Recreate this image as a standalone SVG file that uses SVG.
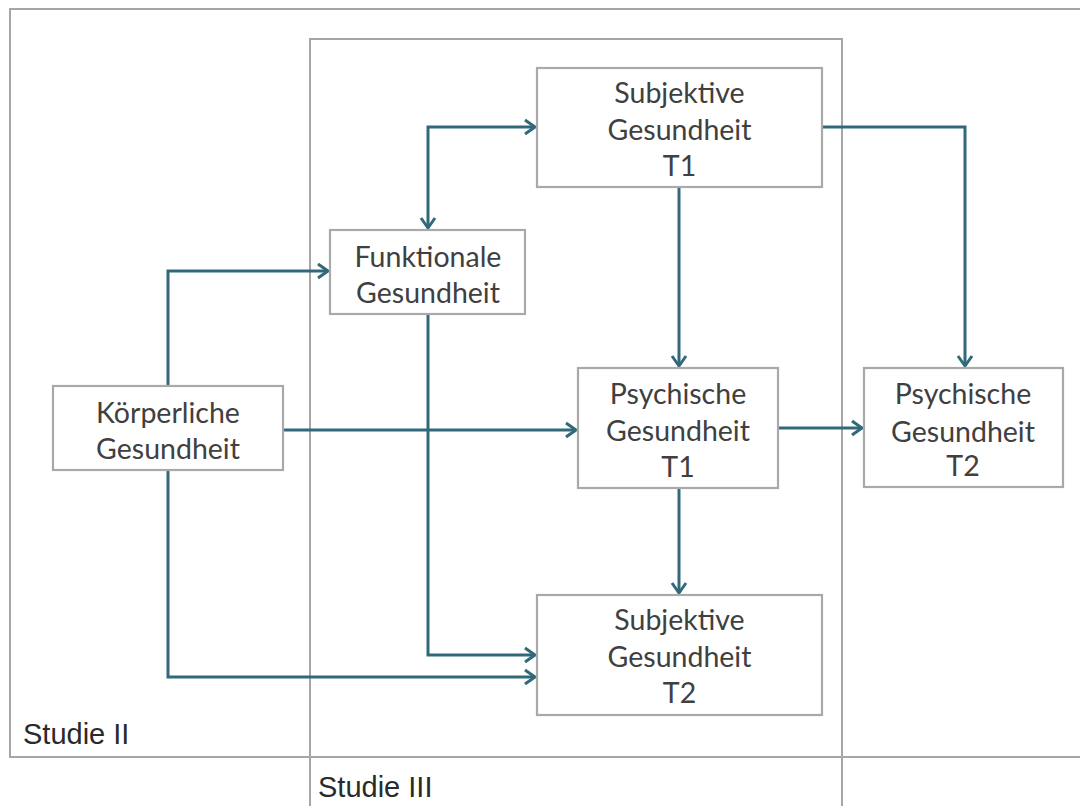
<svg xmlns="http://www.w3.org/2000/svg" width="1080" height="806" viewBox="0 0 1080 806">
<defs>
<style>
.frame{fill:none;stroke:#a6a6a6;stroke-width:2}
.box{fill:#fff;stroke:#a9a9a9;stroke-width:2.2}
.lbl{font-family:Lato,"Open Sans","Noto Sans",sans-serif;font-size:28.5px;fill:#404040;text-anchor:middle}
.study{font-family:"Liberation Sans",Arial,sans-serif;font-size:29px;fill:#2a2a2a}
.con{fill:none;stroke:#31697a;stroke-width:3}
</style>
<marker id="ah" markerUnits="userSpaceOnUse" markerWidth="16" markerHeight="18" refX="12" refY="8" orient="auto-start-reverse" viewBox="0 0 16 16">
<path d="M2,1 L12,8 L2,15" fill="none" stroke="#31697a" stroke-width="3"/>
</marker>
</defs>
<rect width="1080" height="806" fill="#fff"/>
<g id="studie2">
<rect class="frame" x="10" y="9" width="1090" height="748"/>
<text class="study" x="23" y="744">Studie II</text>
</g>
<g id="studie3">
<rect class="frame" x="310" y="39" width="532" height="790"/>
<text class="study" x="318" y="797">Studie III</text>
</g>
<g id="connectors">
<path class="con" d="M428,228 V127 H535" marker-start="url(#ah)" marker-end="url(#ah)"/>
<path class="con" d="M168,386 V271 H328" marker-end="url(#ah)"/>
<path class="con" d="M283,430 H576" marker-end="url(#ah)"/>
<path class="con" d="M168,470 V677 H535" marker-end="url(#ah)"/>
<path class="con" d="M428,314 V655 H535" marker-end="url(#ah)"/>
<path class="con" d="M679,187 V366" marker-end="url(#ah)"/>
<path class="con" d="M822,127 H965 V366" marker-end="url(#ah)"/>
<path class="con" d="M778,428 H862" marker-end="url(#ah)"/>
<path class="con" d="M679,488 V593" marker-end="url(#ah)"/>
</g>
<g id="subj_t1">
<rect class="box" x="537" y="68" width="285" height="119"/>
<text class="lbl" x="679.5" y="103">Subjektive</text>
<text class="lbl" x="679.5" y="140">Gesundheit</text>
<text class="lbl" x="679.5" y="176">T1</text>
</g>
<g id="funktional">
<rect class="box" x="330" y="230" width="195" height="84"/>
<text class="lbl" x="428" y="267">Funktionale</text>
<text class="lbl" x="428" y="303">Gesundheit</text>
</g>
<g id="koerper">
<rect class="box" x="53" y="386" width="230" height="84"/>
<text class="lbl" x="168" y="423">Körperliche</text>
<text class="lbl" x="168" y="459">Gesundheit</text>
</g>
<g id="psych_t1">
<rect class="box" x="578" y="368" width="200" height="120"/>
<text class="lbl" x="678" y="404">Psychische</text>
<text class="lbl" x="678" y="441">Gesundheit</text>
<text class="lbl" x="678" y="477">T1</text>
</g>
<g id="psych_t2">
<rect class="box" x="864" y="368" width="199" height="119"/>
<text class="lbl" x="963" y="404">Psychische</text>
<text class="lbl" x="963" y="442">Gesundheit</text>
<text class="lbl" x="963" y="476">T2</text>
</g>
<g id="subj_t2">
<rect class="box" x="537" y="595" width="285" height="120"/>
<text class="lbl" x="679.5" y="630">Subjektive</text>
<text class="lbl" x="679.5" y="667">Gesundheit</text>
<text class="lbl" x="679.5" y="703">T2</text>
</g>
</svg>
